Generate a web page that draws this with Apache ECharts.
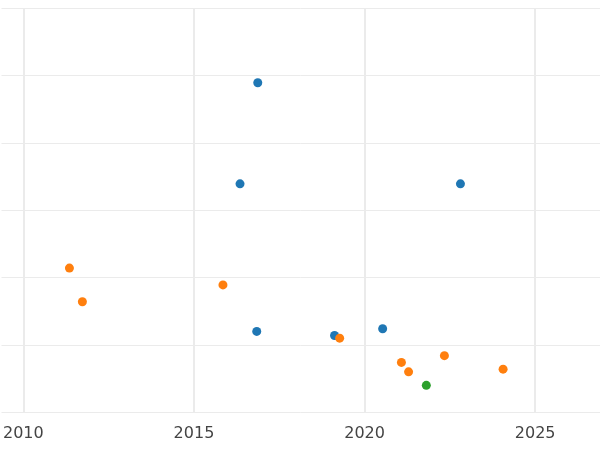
<!doctype html>
<html>
<head>
<script src="https://cdn.jsdelivr.net/npm/echarts@6/dist/echarts.min.js"></script>
<style>html,body{margin:0;padding:0;background:#fff}#chart{width:600px;height:450px}</style>
</head>
<body>
<div id="chart"></div>
<script>
var blue = [[2016.87,4.89],[2016.35,3.39],[2022.81,3.39],[2016.84,1.2],[2019.12,1.14],[2020.53,1.24]];
var orange = [[2011.35,2.14],[2011.73,1.64],[2015.85,1.89],[2019.27,1.1],[2021.08,0.74],[2021.29,0.6],[2022.34,0.84],[2024.06,0.64]];
var green = [[2021.81,0.4]];
var years = [2010, 2015, 2020, 2025];
var colors = ['#1f77b4','#ff7f0e','#2ca02c'];

var chart = echarts.init(document.getElementById('chart'));
function s(data, c) {
  return { type: 'scatter', data: data, symbolSize: 9, itemStyle: { color: c, opacity: 1 }, silent: true, z: 3 };
}
var series = [s(blue, colors[0]), s(orange, colors[1]), s(green, colors[2])];
series.unshift({
  type: 'scatter', data: [], silent: true, z: 1,
  markLine: {
    silent: true, symbol: 'none', label: { show: false },
    lineStyle: { color: '#ebebeb', width: 2, type: 'solid' },
    data: years.map(function (y) { return { xAxis: y }; })
  }
});
chart.setOption({
  animation: false,
  grid: { left: 0, right: 0, top: 8, bottom: 23 },
  xAxis: {
    type: 'value', min: 2009.36, max: 2026.9,
    axisLine: { show: false }, axisTick: { show: false },
    axisLabel: { color: '#444', fontSize: 16, fontFamily: 'DejaVu Sans', margin: 6,
      customValues: years, formatter: function (v) { return String(v); } },
    splitLine: { show: false }
  },
  yAxis: {
    type: 'value', min: 0, max: 6, interval: 1,
    axisLine: { show: false }, axisTick: { show: false }, axisLabel: { show: false },
    splitLine: { lineStyle: { color: '#ebebeb', width: 1 } }
  },
  series: series
});
</script>
</body>
</html>
